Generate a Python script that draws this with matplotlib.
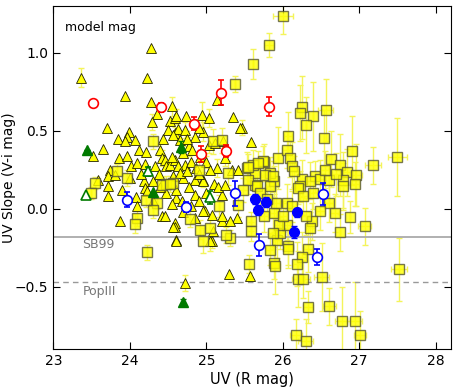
import numpy as np
import matplotlib
matplotlib.use("Agg")
import matplotlib.pyplot as plt

# ---------------- data ----------------
tri_x = [23.36, 24.28, 24.23, 23.94, 24.28, 25.14, 23.70, 25.35, 25.58, 25.47,
         24.35, 24.29, 24.53, 24.59, 23.99, 23.97, 23.85, 23.94, 24.07, 24.43,
         24.50, 24.59, 24.12, 24.21, 24.40, 23.52, 23.86, 23.97, 24.01, 24.10,
         24.20, 24.33, 24.42, 24.46, 24.48, 24.53, 24.59, 23.74, 23.72, 23.59,
         24.19, 23.72, 24.20, 23.81, 23.72, 24.22, 24.08, 24.47, 24.42, 24.46,
         23.87, 24.61, 24.59, 24.59, 24.61, 24.72, 25.30, 25.57, 25.07, 24.85,
         25.20, 25.40, 24.98, 24.55, 24.61, 24.73, 24.94, 25.04, 25.44, 24.63,
         24.72, 24.96, 24.85, 24.57, 24.78, 25.04, 25.22, 25.11, 24.81, 25.24,
         25.33, 25.42, 25.14, 24.87, 24.72, 24.63, 24.96, 24.85, 24.70, 24.57,
         24.96, 24.61, 24.85, 25.20, 24.96, 25.07, 25.20, 25.31, 24.57, 25.09,
         25.05, 24.60, 24.66, 24.75, 24.90, 24.70, 24.92, 25.00, 24.80, 24.66,
         24.75, 24.90, 25.05, 25.10, 24.77, 24.68, 24.80, 24.90, 25.00, 25.15,
         23.65, 24.00, 24.15, 24.30, 24.38, 23.90, 24.10, 24.30, 24.55, 24.70,
         24.55, 24.40, 25.25]
tri_y = [0.84, 1.03, 0.84, 0.72, 0.686, 0.70, 0.517, 0.585, 0.425, 0.52,
         0.607, 0.556, 0.56, 0.58, 0.495, 0.463, 0.447, 0.431, 0.442, 0.447,
         0.506, 0.485, 0.378, 0.361, 0.378, 0.335, 0.325, 0.34, 0.271, 0.293,
         0.288, 0.271, 0.325, 0.31, 0.271, 0.282, 0.31, 0.25, 0.207, 0.181,
         0.175, 0.143, 0.133, 0.218, 0.079, 0.111, 0.075, 0.10, -0.049, -0.049,
         -0.081, 0.069, -0.092, -0.12, -0.199, -0.476, -0.42, -0.43, -0.21, -0.06,
         -0.081, -0.06, -0.017, 0.656, 0.592, 0.592, 0.603, 0.581, 0.517, 0.511,
         0.506, 0.495, 0.463, 0.474, 0.40, 0.41, 0.431, 0.421, 0.378, 0.325,
         0.25, 0.25, 0.261, 0.261, 0.282, 0.271, 0.186, 0.186, 0.197, 0.207,
         0.175, 0.122, 0.09, 0.09, -0.017, -0.038, -0.049, -0.081, -0.12, -0.146,
         -0.21, -0.205, 0.44, 0.45, 0.52, 0.36, 0.33, 0.30, 0.30, 0.23,
         0.24, 0.22, 0.25, 0.16, 0.14, 0.05, 0.02, 0.05, 0.10, 0.14,
         0.38, 0.20, 0.22, 0.18, 0.22, 0.12, 0.02, 0.05, 0.03, -0.02,
         0.33, 0.14, 0.15]
tri_yerr = [0.06, 0.0, 0.0, 0.0, 0.0, 0.0, 0.0, 0.0, 0.0, 0.05,
            0.0, 0.05, 0.0, 0.0, 0.0, 0.0, 0.0, 0.0, 0.0, 0.0,
            0.0, 0.04, 0.0, 0.0, 0.04, 0.0, 0.0, 0.0, 0.0, 0.0,
            0.0, 0.0, 0.05, 0.0, 0.0, 0.0, 0.0, 0.0, 0.0, 0.0,
            0.0, 0.0, 0.0, 0.0, 0.0, 0.0, 0.0, 0.0, 0.0, 0.0,
            0.0, 0.0, 0.0, 0.0, 0.0, 0.05, 0.0, 0.0, 0.04, 0.0,
            0.0, 0.0, 0.0, 0.06, 0.05, 0.0, 0.08, 0.06, 0.0, 0.0,
            0.05, 0.06, 0.0, 0.0, 0.06, 0.05, 0.0, 0.0, 0.0, 0.05,
            0.0, 0.0, 0.06, 0.0, 0.0, 0.0, 0.05, 0.0, 0.0, 0.0,
            0.0, 0.0, 0.0, 0.0, 0.0, 0.0, 0.0, 0.0, 0.0, 0.0,
            0.06, 0.0, 0.0, 0.05, 0.0, 0.0, 0.0, 0.04, 0.0, 0.0,
            0.0, 0.05, 0.0, 0.0, 0.0, 0.0, 0.0, 0.0, 0.0, 0.0,
            0.0, 0.0, 0.0, 0.0, 0.0, 0.0, 0.0, 0.0, 0.0, 0.0,
            0.0, 0.0, 0.0]

sq_x = [26.00, 25.82, 25.61, 25.38, 24.31, 23.97, 23.55, 23.83, 24.48, 24.57,
        23.49, 24.21, 24.36, 24.30, 24.09, 24.07, 24.42, 24.52, 24.23, 25.56,
        24.96, 25.31, 24.92, 25.26, 25.05, 24.79, 25.59, 25.59, 25.09, 25.21,
        25.53, 25.64, 25.75, 25.88, 25.94, 26.05, 25.64, 25.54, 25.83, 25.83,
        25.29, 25.66, 25.42, 25.16, 25.88, 25.92, 25.83, 25.88, 26.07, 25.96,
        26.05, 26.05, 25.91, 26.25, 26.22, 26.39, 26.56, 26.31, 26.07, 26.54,
        26.10, 26.12, 26.63, 26.75, 26.90, 27.18, 25.74, 25.77, 25.87, 26.25,
        26.42, 26.49, 26.61, 26.84, 26.96, 26.94, 26.79, 26.79, 26.22, 27.50,
        27.07, 26.75, 26.88, 27.52, 26.33, 26.25, 26.18, 25.90, 26.07, 26.20,
        26.27, 26.51, 26.33, 26.61, 26.78, 26.94, 27.01, 26.17, 26.30, 26.20,
        26.27, 26.12, 26.60, 26.49, 26.68, 25.95, 26.38, 26.36, 25.87, 26.35,
        26.70, 26.55, 26.15, 26.40, 25.70, 25.80, 25.75, 26.00, 26.30, 25.48,
        24.90, 25.61, 25.68, 25.55]
sq_y = [1.233, 1.05, 0.93, 0.80, 0.431, 0.197, 0.165, 0.239, 0.158, 0.165,
        0.10, 0.058, 0.036, -0.011, -0.06, -0.096, 0.154, 0.16, -0.28, -0.355,
        -0.205, -0.188, -0.135, -0.167, -0.124, -0.066, -0.081, -0.146, 0.431, 0.44,
        0.261, 0.229, 0.297, 0.175, 0.325, 0.378, 0.154, 0.186, 0.229, 0.143,
        0.229, 0.143, 0.026, 0.015, -0.028, -0.199, -0.263, -0.348, -0.242, -0.156,
        -0.103, 0.036, 0.036, 0.65, 0.613, 0.592, 0.635, 0.538, 0.468, 0.453,
        0.322, 0.276, 0.318, 0.282, 0.372, 0.278, 0.303, 0.218, 0.207, 0.192,
        0.207, 0.192, 0.186, 0.233, 0.218, 0.16, 0.186, 0.143, 0.143, 0.329,
        -0.113, -0.152, -0.053, -0.39, -0.258, -0.312, -0.353, -0.37, -0.258, -0.45,
        -0.45, -0.438, -0.63, -0.626, -0.722, -0.722, -0.808, -0.808, -0.85, 0.133,
        0.079, 0.015, 0.036, -0.017, -0.028, -0.103, -0.081, -0.124, -0.156, 0.18,
        0.22, 0.25, 0.24, 0.10, 0.10, 0.06, -0.05, -0.05, -0.05, 0.12,
        0.25, 0.278, 0.293, 0.27]
sq_yerr = [0.11, 0.075, 0.095, 0.05, 0.05, 0.05, 0.04, 0.05, 0.05, 0.04,
           0.04, 0.05, 0.04, 0.05, 0.05, 0.06, 0.05, 0.05, 0.05, 0.06,
           0.08, 0.05, 0.06, 0.05, 0.05, 0.05, 0.06, 0.06, 0.08, 0.08,
           0.10, 0.09, 0.12, 0.10, 0.20, 0.12, 0.10, 0.09, 0.10, 0.12,
           0.08, 0.08, 0.08, 0.07, 0.12, 0.12, 0.10, 0.10, 0.12, 0.10,
           0.10, 0.12, 0.10, 0.20, 0.18, 0.22, 0.20, 0.18, 0.15, 0.18,
           0.12, 0.15, 0.18, 0.20, 0.22, 0.12, 0.10, 0.12, 0.10, 0.12,
           0.10, 0.12, 0.15, 0.15, 0.20, 0.14, 0.18, 0.15, 0.10, 0.25,
           0.12, 0.12, 0.10, 0.20, 0.15, 0.16, 0.14, 0.18, 0.12, 0.18,
           0.12, 0.22, 0.10, 0.12, 0.22, 0.25, 0.15, 0.10, 0.14, 0.10,
           0.12, 0.10, 0.12, 0.12, 0.12, 0.10, 0.12, 0.10, 0.10, 0.12,
           0.14, 0.12, 0.10, 0.10, 0.08, 0.08, 0.10, 0.10, 0.12, 0.08,
           0.06, 0.10, 0.08, 0.08]
sq_xerr = [0.13, 0.06, 0.0, 0.0, 0.0, 0.0, 0.0, 0.0, 0.0, 0.0,
           0.0, 0.0, 0.0, 0.0, 0.0, 0.0, 0.0, 0.0, 0.0, 0.0,
           0.0, 0.0, 0.0, 0.0, 0.0, 0.0, 0.0, 0.0, 0.0, 0.0,
           0.05, 0.05, 0.0, 0.05, 0.0, 0.06, 0.05, 0.0, 0.0, 0.05,
           0.0, 0.05, 0.0, 0.0, 0.05, 0.05, 0.05, 0.06, 0.06, 0.05,
           0.05, 0.06, 0.05, 0.0, 0.0, 0.0, 0.10, 0.0, 0.05, 0.0,
           0.06, 0.05, 0.0, 0.0, 0.0, 0.10, 0.05, 0.06, 0.0, 0.06,
           0.05, 0.06, 0.0, 0.06, 0.08, 0.06, 0.0, 0.06, 0.05, 0.12,
           0.08, 0.0, 0.0, 0.10, 0.06, 0.05, 0.05, 0.06, 0.06, 0.08,
           0.08, 0.10, 0.06, 0.08, 0.10, 0.10, 0.08, 0.08, 0.10, 0.06,
           0.06, 0.05, 0.06, 0.06, 0.06, 0.06, 0.06, 0.06, 0.06, 0.06,
           0.06, 0.06, 0.06, 0.06, 0.06, 0.06, 0.06, 0.06, 0.06, 0.06,
           0.0, 0.0, 0.0, 0.0]

red_x = [23.52, 24.41, 24.84, 25.19, 24.93, 25.26, 25.82]
red_y = [0.68, 0.65, 0.545, 0.745, 0.35, 0.37, 0.654]
red_yerr = [0.0, 0.03, 0.04, 0.08, 0.05, 0.04, 0.06]

bopen_x = [23.96, 24.73, 25.37, 25.69, 26.53, 26.45]
bopen_y = [0.058, 0.01, 0.10, -0.233, 0.092, -0.31]
bopen_yerr = [0.05, 0.03, 0.08, 0.07, 0.07, 0.05]

bfill_x = [25.64, 25.78, 25.67, 26.19, 26.15]
bfill_y = [0.062, 0.043, -0.008, -0.024, -0.15]
bfill_yerr = [0.03, 0.03, 0.03, 0.03, 0.04]

gfill_x = [23.44, 24.67, 24.31, 24.69]
gfill_y = [0.378, 0.395, 0.107, -0.598]
gfill_yerr = [0.0, 0.04, 0.0, 0.02]

gopen_x = [23.43, 24.24, 25.05]
gopen_y = [0.09, 0.24, 0.072]
gopen_yerr = [0.0, 0.03, 0.04]

sb99_level = -0.18
popiii_level = -0.47

# ---------------- plot ----------------
plt.rcParams['font.family'] = ['DejaVu Sans']
fig = plt.figure(figsize=(4.58, 3.88), dpi=100)
ax = fig.add_axes([0.1164, 0.1005, 0.8683, 0.884])

ecol = '#f4f45a'
tri_x_a = np.array(tri_x); tri_y_a = np.array(tri_y); tri_ye = np.array(tri_yerr)
m = tri_ye > 0
ax.errorbar(tri_x_a[m], tri_y_a[m], yerr=tri_ye[m], fmt='none', ecolor=ecol,
            elinewidth=1.0, capsize=2.5, zorder=1)
ax.errorbar(sq_x, sq_y, yerr=sq_yerr, xerr=sq_xerr, fmt='none', ecolor=ecol,
            elinewidth=1.0, capsize=2.5, zorder=1)

ax.plot(tri_x, tri_y, ls='none', marker='^', ms=7, mfc='#ffff00', mec='#222200',
        mew=0.6, zorder=3)
ax.plot(sq_x, sq_y, ls='none', marker='s', ms=7.5, mfc='#ffff00', mec='#555533',
        mew=1.0, alpha=0.8, zorder=4)

ax.axhline(sb99_level, color='#aaaaaa', lw=1.3, zorder=2)
ax.axhline(popiii_level, color='#999999', lw=1.0, ls='--', dashes=(4, 3), zorder=2)

ax.errorbar(red_x, red_y, yerr=red_yerr, fmt='o', ms=7, mfc='white', mec='red',
            mew=1.2, ecolor='red', elinewidth=1.2, capsize=2.5, zorder=6)
ax.errorbar(bopen_x, bopen_y, yerr=bopen_yerr, fmt='o', ms=7, mfc='white', mec='blue',
            mew=1.2, ecolor='blue', elinewidth=1.2, capsize=2.5, zorder=6)
ax.errorbar(bfill_x, bfill_y, yerr=bfill_yerr, fmt='o', ms=7, mfc='blue', mec='blue',
            ecolor='blue', elinewidth=1.2, capsize=2.5, zorder=6)
ax.errorbar(gfill_x, gfill_y, yerr=gfill_yerr, fmt='^', ms=7, mfc='#007a00', mec='#007a00',
            ecolor='#007a00', elinewidth=1.2, capsize=2.5, zorder=6)
ax.errorbar(gopen_x, gopen_y, yerr=gopen_yerr, fmt='^', ms=7, mfc='white', mec='#007a00',
            mew=1.2, ecolor='#007a00', elinewidth=1.2, capsize=2.5, zorder=6)

ax.text(23.38, sb99_level - 0.05, 'SB99', color='#777777', fontsize=9, va='center')
ax.text(23.38, popiii_level - 0.06, 'PopIII', color='#777777', fontsize=9, va='center')
ax.text(0.03, 0.955, 'model mag', transform=ax.transAxes, fontsize=9, va='top')

ax.set_xlim(23, 28.2)
ax.set_ylim(-0.9, 1.3)
ax.set_xticks([23, 24, 25, 26, 27, 28])
ax.set_yticks([-0.5, 0.0, 0.5, 1.0])
ax.tick_params(direction='in', top=True, right=True, length=5, labelsize=10)
ax.set_xlabel('UV (R mag)', fontsize=10.5, labelpad=3)
ax.set_ylabel('UV Slope (V-i mag)', fontsize=10)
ax.yaxis.set_label_coords(-0.095, 0.5)

fig.savefig('out.png', dpi=100)
